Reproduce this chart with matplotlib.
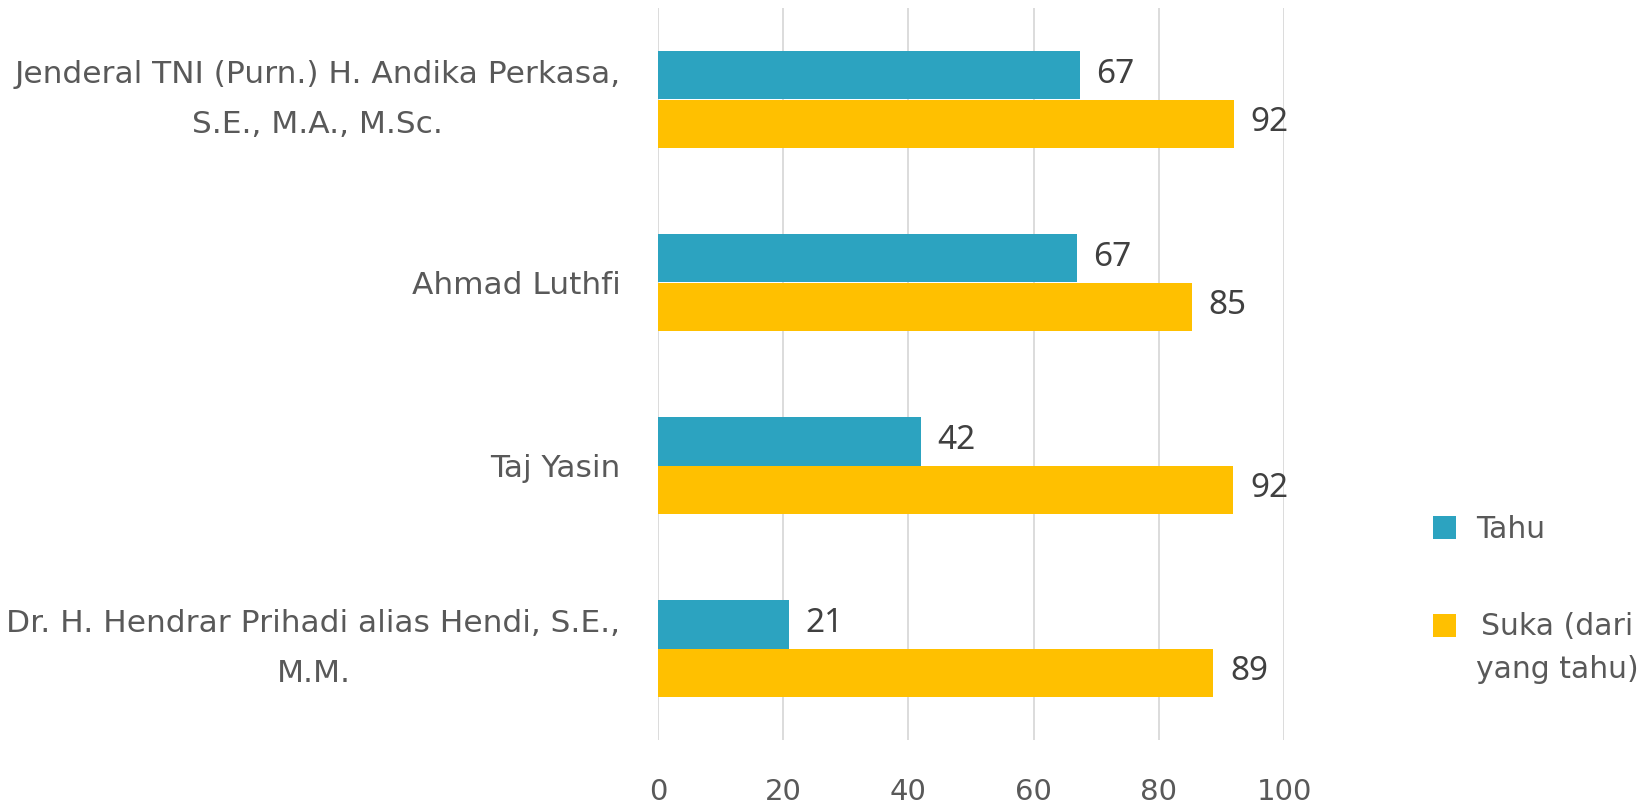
import matplotlib
matplotlib.use("Agg")
import matplotlib.pyplot as plt
import numpy as np
from matplotlib.patches import Patch, Rectangle
from matplotlib.legend_handler import HandlerPatch

categories = [
    "Jenderal TNI (Purn.) H. Andika Perkasa,\nS.E., M.A., M.Sc.",
    "Ahmad Luthfi",
    "Taj Yasin",
    "Dr. H. Hendrar Prihadi alias Hendi, S.E.,\nM.M.",
]
tahu = [67.4, 66.9, 42.0, 20.9]
suka = [92.0, 85.3, 91.9, 88.7]
series_names = ["Tahu", "Suka (dari\nyang tahu)"]
xticks = [0, 20, 40, 60, 80, 100]

c_tahu = "#2CA3C0"
c_suka = "#FFC000"
label_col = "#595959"
data_col = "#404040"

plt.rcParams['font.family'] = ['DejaVu Sans']

fig = plt.figure(figsize=(16.47, 8.06), dpi=100)
ax = fig.add_axes([658/1647, 1-740/806, (1284-658)/1647, (740-8)/806])

y = np.arange(len(categories))
h = 0.263
b1 = ax.barh(y - h/2, tahu, height=h, color=c_tahu, zorder=3)
b2 = ax.barh(y + h/2, suka, height=h, color=c_suka, zorder=3)

for bars, vals in ((b1, tahu), (b2, suka)):
    for rect, v in zip(bars, vals):
        ax.annotate(f"{round(v):d}", (rect.get_width(), rect.get_y() + rect.get_height()/2),
                    xytext=(12, 1), textcoords="offset points", va="center", ha="left",
                    fontsize=24, color=data_col, family=["Noto Sans", "DejaVu Sans"])

ax.set_ylim(len(categories) - 0.5, -0.5)
ax.set_xlim(0, 100)
ax.set_xticks(xticks)
ax.set_xticklabels([str(t) for t in xticks])
ax.set_yticks(y)
ax.set_yticklabels(categories)
for t in ax.get_yticklabels():
    t.set_multialignment("center")
    t.set_fontsize(22.5)
    if "\n" in t.get_text():
        t.set_linespacing(1.88)
        t.set_va("center")
for t in ax.get_xticklabels():
    t.set_fontsize(21)
ax.tick_params(axis="both", length=0, labelcolor=label_col)
ax.tick_params(axis="x", pad=27)
ax.tick_params(axis="y", pad=27)
ax.grid(axis="x", color="#D9D9D9", linewidth=1.3, zorder=0)
for s in ax.spines.values():
    s.set_visible(False)


def make_square(shift):
    def f(legend, orig_handle, xdescent, ydescent, width, height, fontsize):
        return Rectangle((-xdescent, -ydescent + shift), width, height)
    return f


handles = [Patch(facecolor=c_tahu), Patch(facecolor=c_suka)]
leg = fig.legend(handles, series_names, loc="upper left",
                 bbox_to_anchor=(1418/1647, 1-500/806), frameon=False,
                 fontsize=21.5, handlelength=0.78, handleheight=0.78, handletextpad=0.65,
                 labelspacing=2.29, labelcolor=label_col, borderpad=0,
                 handler_map={handles[0]: HandlerPatch(patch_func=make_square(0)),
                              handles[1]: HandlerPatch(patch_func=make_square(17))})
for t in leg.get_texts():
    t.set_multialignment("center")
    t.set_linespacing(1.6)

fig.savefig("out.png", dpi=100)
